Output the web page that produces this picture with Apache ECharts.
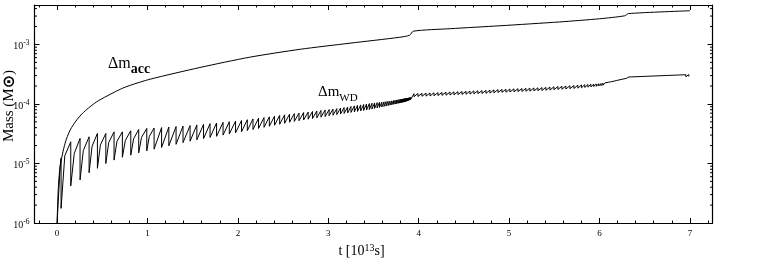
<!DOCTYPE html>
<html><head><meta charset="utf-8">
<script src="https://cdn.jsdelivr.net/npm/echarts@6/dist/echarts.min.js"></script>
<style>html,body{margin:0;padding:0;background:#fff}#c{width:761px;height:267px}</style>
</head><body><div id="c"></div>
<script>
// values are in units of 1e-5 solar masses
const UNIT = 1e-5;

// accreted mass curve
const accT = [0, 0.012, 0.033, 0.088, 0.144, 0.218, 0.291, 0.40, 0.476, 0.70, 0.81, 1.03, 1.58, 2.13, 2.69, 3.24, 3.79, 3.90, 3.94, 4.35, 4.90, 5.56, 6.00, 6.28, 6.32, 7.00];
const accV = [0.1, 0.35, 0.88, 2.19, 3.64, 5.4, 7.2, 9.9, 11.8, 17.7, 20.6, 26.1, 41.0, 61.0, 83.0, 105, 132, 143, 167, 184, 206, 239, 270, 303, 330, 368];

// WD mass: start of curve
const wdStartT = [0, 0.033];
const wdStartV = [0.1, 0.88];

// mid-rise points of the first broad teeth
const midT = [0.085, 0.19, 0.29, 0.387, 0.479, 0.571, 0.662, 0.755, 0.846, 0.934, 1.02];
const midV = [1.35, 1.48, 1.65, 1.95, 2.05, 2.25, 2.35, 2.45, 2.6, 2.75, 2.85];

// segment A flashes (t < 3.92)
const segAT = [0.044, 0.151, 0.254, 0.354, 0.446, 0.539, 0.630, 0.722, 0.815, 0.903, 0.992, 1.073, 1.156, 1.236, 1.316, 1.393, 1.471, 1.546, 1.620, 1.692, 1.764, 1.836, 1.905, 1.974, 2.040, 2.104, 2.167, 2.228, 2.289, 2.348, 2.405, 2.462, 2.517, 2.571, 2.624, 2.676, 2.727, 2.777, 2.825, 2.873, 2.919, 2.965, 3.009, 3.052, 3.094, 3.135, 3.175, 3.214, 3.251, 3.288, 3.323, 3.358, 3.391, 3.423, 3.454, 3.483, 3.512, 3.540, 3.566, 3.592, 3.616, 3.639, 3.661, 3.682, 3.702, 3.721, 3.739, 3.755, 3.771, 3.785, 3.799, 3.811, 3.822, 3.832, 3.842, 3.850, 3.859, 3.867, 3.875, 3.881, 3.888, 3.895, 3.900, 3.906, 3.911];
const segAPeak = [1.23, 2.31, 2.64, 2.81, 3.20, 3.20, 3.40, 3.40, 3.54, 3.73, 3.88, 3.93, 4.01, 4.10, 4.18, 4.26, 4.34, 4.44, 4.55, 4.67, 4.79, 4.91, 5.03, 5.16, 5.29, 5.44, 5.60, 5.76, 5.91, 6.07, 6.24, 6.42, 6.56, 6.73, 6.88, 7.04, 7.18, 7.31, 7.48, 7.63, 7.78, 7.93, 8.05, 8.21, 8.35, 8.53, 8.71, 8.90, 9.09, 9.29, 9.47, 9.64, 9.81, 10.00, 10.15, 10.29, 10.41, 10.52, 10.64, 10.74, 10.84, 10.95, 11.05, 11.14, 11.27, 11.40, 11.53, 11.65, 11.76, 11.88, 11.97, 12.06, 12.15, 12.22, 12.29, 12.37, 12.44, 12.51, 12.57, 12.61, 12.66, 12.71, 12.76, 12.81, 12.86];
const segATrough = [0.176, 0.42, 0.53, 0.70, 0.83, 1.00, 1.14, 1.27, 1.38, 1.51, 1.63, 1.74, 1.86, 1.98, 2.10, 2.24, 2.37, 2.50, 2.62, 2.74, 2.86, 3.00, 3.13, 3.27, 3.41, 3.57, 3.72, 3.88, 4.05, 4.22, 4.39, 4.56, 4.74, 4.93, 5.09, 5.23, 5.39, 5.54, 5.69, 5.84, 6.00, 6.14, 6.32, 6.46, 6.61, 6.77, 6.92, 7.07, 7.21, 7.34, 7.48, 7.63, 7.78, 7.90, 8.05, 8.21, 8.40, 8.56, 8.73, 8.90, 9.07, 9.21, 9.39, 9.54, 9.69, 9.84, 9.96, 10.09, 10.21, 10.33, 10.43, 10.56, 10.64, 10.72, 10.80, 10.88, 11.01, 11.14, 11.27, 11.36, 11.49, 11.58, 11.67, 11.81, 11.90];

// segment B flashes (3.92 < t < 6.3)
const segBT = [3.948, 3.992, 4.036, 4.081, 4.125, 4.169, 4.213, 4.257, 4.302, 4.346, 4.390, 4.434, 4.479, 4.523, 4.567, 4.611, 4.655, 4.700, 4.744, 4.788, 4.832, 4.877, 4.921, 4.965, 5.009, 5.054, 5.098, 5.142, 5.186, 5.230, 5.275, 5.319, 5.363, 5.407, 5.452, 5.496, 5.540, 5.584, 5.628, 5.673, 5.717, 5.761, 5.800, 5.837, 5.872, 5.905, 5.936, 5.965, 5.991, 6.016, 6.038, 6.060, 6.080, 6.099, 6.115, 6.132, 6.148, 6.163, 6.177, 6.190, 6.204, 6.216, 6.228, 6.239, 6.250, 6.260, 6.270, 6.279, 6.288, 6.296];
const segBPeak = [14.88, 15.00, 15.11, 15.20, 15.29, 15.41, 15.53, 15.65, 15.77, 15.86, 15.98, 16.11, 16.23, 16.36, 16.46, 16.59, 16.71, 16.78, 16.94, 17.11, 17.27, 17.44, 17.57, 17.71, 17.85, 17.95, 18.09, 18.20, 18.34, 18.44, 18.58, 18.69, 18.87, 19.06, 19.25, 19.43, 19.66, 19.85, 20.04, 20.24, 20.43, 20.67, 20.88, 21.08, 21.24, 21.45, 21.62, 21.74, 21.87, 22.08, 22.34, 22.60, 22.86, 23.13, 23.40, 23.67, 23.94, 24.22, 24.51, 24.79, 25.08, 25.34, 25.58, 25.78, 25.98, 26.19, 26.39, 26.59, 26.75, 26.90];
const segBTrough = [13.26, 13.36, 13.47, 13.54, 13.62, 13.73, 13.83, 13.94, 14.05, 14.13, 14.24, 14.35, 14.46, 14.57, 14.65, 14.76, 14.88, 14.94, 15.08, 15.23, 15.38, 15.53, 15.65, 15.77, 15.89, 15.98, 16.11, 16.20, 16.33, 16.43, 16.55, 16.65, 16.81, 16.97, 17.14, 17.30, 17.51, 17.67, 17.85, 18.02, 18.20, 18.41, 18.69, 18.91, 19.13, 19.36, 19.59, 19.81, 20.04, 20.27, 20.59, 20.92, 21.24, 21.58, 21.91, 22.25, 22.60, 22.95, 23.22, 23.49, 23.76, 24.04, 24.32, 24.60, 24.79, 24.98, 25.19, 25.38, 25.58, 25.73];

// segment C flashes (t > 6.3)
const segCT = [6.325, 6.358, 6.392, 6.425, 6.458, 6.491, 6.524, 6.557, 6.590, 6.624, 6.657, 6.690, 6.723, 6.756, 6.789, 6.822, 6.855, 6.888, 6.922, 6.955, 6.988];
const segCPeak = [28.39, 28.52, 28.65, 28.79, 28.92, 29.05, 29.19, 29.32, 29.46, 29.59, 29.73, 29.87, 30.01, 30.15, 30.29, 30.43, 30.57, 30.71, 30.85, 31.00, 31.14];
const segCTrough = [26.29, 26.41, 26.53, 26.65, 26.78, 26.90, 27.03, 27.14, 27.27, 27.40, 27.52, 27.65, 27.78, 27.91, 28.04, 28.17, 28.30, 28.43, 28.56, 28.69, 28.83];
const wdEndT = [7.0];
const wdEndV = [29.7];

// axis ticks
const xTickLabels = ['0', '1', '2', '3', '4', '5', '6', '7'];
const yTickExponents = [-6, -5, -4, -3];
const yMin = 1e-6, yMax = 4.6e-3;
const xMin = -0.25, xMax = 7.25;

const SERIF = 'Liberation Serif, Times New Roman, serif';

// build series data
const accData = accT.map((t, i) => [t, accV[i] * UNIT]);
const wdData = [];
wdStartT.forEach((t, i) => wdData.push([t, wdStartV[i] * UNIT]));
function addSeg(T, P, L, useMid) {
  T.forEach((t, i) => {
    if (useMid && i >= 1 && i - 1 < midT.length) wdData.push([midT[i - 1], midV[i - 1] * UNIT]);
    wdData.push([t, P[i] * UNIT]);
    wdData.push([t, L[i] * UNIT]);
  });
}
addSeg(segAT, segAPeak, segATrough, true);
addSeg(segBT, segBPeak, segBTrough, false);
addSeg(segCT, segCPeak, segCTrough, false);
wdEndT.forEach((t, i) => wdData.push([t, wdEndV[i] * UNIT]));

// log minor ticks (2..9 in each decade)
const minorTicks = [];
for (let e = -6; e <= -3; e++) {
  for (let m = 2; m <= 9; m++) {
    const v = m * Math.pow(10, e);
    if (v < yMax) minorTicks.push([0, v]);
  }
}

const axisLineStyle = { color: '#000', width: 1.2 };
const tickStyle = { color: '#000', width: 1 };

function xAxisBase(pos) {
  return {
    type: 'value', min: xMin, max: xMax, splitNumber: 7, position: pos,
    axisLine: { show: true, onZero: false, lineStyle: axisLineStyle },
    axisTick: { show: true, inside: true, length: 5, lineStyle: tickStyle },
    minorTick: { show: true, splitNumber: 5, length: 2.5, lineStyle: tickStyle },
    splitLine: { show: false }, minorSplitLine: { show: false }
  };
}
function yAxisBase(pos) {
  return {
    type: 'log', logBase: 10, min: yMin, max: yMax, position: pos,
    axisLine: { show: true, onZero: false, lineStyle: axisLineStyle },
    axisTick: { show: true, inside: true, length: 5, lineStyle: tickStyle },
    minorTick: { show: false },
    splitLine: { show: false }, minorSplitLine: { show: false }
  };
}

const xBottom = Object.assign(xAxisBase('bottom'), {
  axisLabel: {
    color: '#000', fontFamily: SERIF, fontSize: 9, margin: 6,
    formatter: v => { const s = String(Math.round(v * 1000) / 1000); return xTickLabels.includes(s) ? s : ''; }
  },
  name: 't [10{sup|13}s]', nameLocation: 'middle', nameGap: 20, nameMoveOverlap: false,
  nameTextStyle: {
    color: '#000', fontFamily: SERIF, fontSize: 14, padding: [0, 24, 0, 0],
    rich: { sup: { color: '#000', fontFamily: SERIF, fontSize: 10, verticalAlign: 'bottom', padding: [0, 0, 6, 0] } }
  }
});
const xTop = Object.assign(xAxisBase('top'), { axisLabel: { show: false } });

const yLeft = Object.assign(yAxisBase('left'), {
  axisLabel: {
    margin: 5,
    formatter: v => {
      const l = Math.log10(v); const e = Math.round(l);
      if (Math.abs(l - e) < 1e-6 && yTickExponents.includes(e)) return '{b|10}{s|' + e + '}';
      return '';
    },
    rich: {
      b: { color: '#000', fontFamily: SERIF, fontSize: 10, verticalAlign: 'bottom', padding: [4, 0, 0, 0] },
      s: { color: '#000', fontFamily: SERIF, fontSize: 7.5, verticalAlign: 'bottom', padding: [0, 0, 4, 0] }
    }
  },
  name: 'Mass (M{sun|⊙})', nameLocation: 'middle', nameGap: 17, nameMoveOverlap: false,
  nameTextStyle: {
    color: '#000', fontFamily: SERIF, fontSize: 15, padding: [0, 0, 0, 16],
    rich: { sun: { color: '#000', fontFamily: 'DejaVu Sans', fontSize: 16, fontWeight: 'bold' } }
  }
});
const yRight = Object.assign(yAxisBase('right'), { axisLabel: { show: false } });

const chart = echarts.init(document.getElementById('c'), null, { renderer: 'canvas' });
chart.setOption({
  animation: false,
  backgroundColor: '#fff',
  grid: { left: 34.5, right: 48.5, top: 5, bottom: 44, containLabel: false, outerBoundsMode: 'none' },
  xAxis: [xBottom, xTop],
  yAxis: [yLeft, yRight],
  graphic: [
    {
      type: 'text', left: 108, top: 56, silent: true,
      style: {
        text: '{m|Δm}{s|acc}',
        rich: {
          m: { fontFamily: SERIF, fontSize: 16, fill: '#000', verticalAlign: 'bottom', padding: [0, 0, 4, 0] },
          s: { fontFamily: SERIF, fontSize: 14, fontWeight: 'bold', fill: '#000', verticalAlign: 'bottom' }
        }
      }
    },
    {
      type: 'text', left: 318, top: 85, silent: true,
      style: {
        text: '{m|Δm}{s|WD}',
        rich: {
          m: { fontFamily: SERIF, fontSize: 15, fill: '#000', verticalAlign: 'bottom', padding: [0, 0, 4, 0] },
          s: { fontFamily: SERIF, fontSize: 11, fill: '#000', verticalAlign: 'bottom' }
        }
      }
    }
  ],
  series: [
    { type: 'line', name: 'Δm_acc', data: accData, showSymbol: false, symbol: 'none', silent: true,
      smooth: 0.25, lineStyle: { color: '#000', width: 1 } },
    { type: 'line', name: 'Δm_WD', data: wdData, showSymbol: false, symbol: 'none', silent: true,
      lineStyle: { color: '#000', width: 1 }, sampling: null },
    { type: 'custom', name: 'minor', coordinateSystem: 'cartesian2d', silent: true,
      encode: { x: 0, y: 1 }, data: minorTicks, clip: false,
      renderItem: (params, api) => {
        const y = api.coord([0, api.value(1)])[1];
        const cs = params.coordSys;
        return { type: 'group', children: [
          { type: 'line', shape: { x1: cs.x, y1: y, x2: cs.x + 2.5, y2: y }, style: { stroke: '#000', lineWidth: 1 } },
          { type: 'line', shape: { x1: cs.x + cs.width - 2.5, y1: y, x2: cs.x + cs.width, y2: y }, style: { stroke: '#000', lineWidth: 1 } }
        ] };
      } }
  ]
});
</script>
</body></html>
